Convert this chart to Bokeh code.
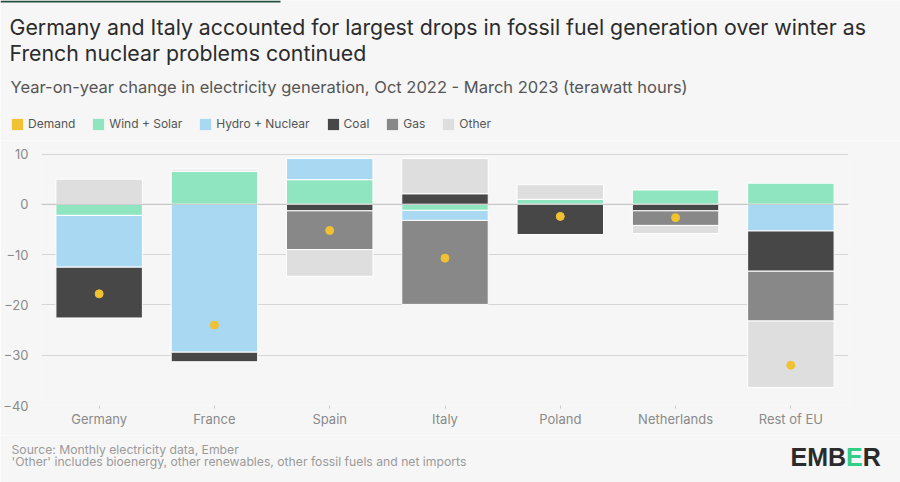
from bokeh.plotting import figure
from bokeh.models import ColumnDataSource, Label, Legend, LegendItem, Span, Range1d
from bokeh.layouts import column, row
from bokeh.embed import file_html
from bokeh.resources import INLINE

countries = ["Germany", "France", "Spain", "Italy", "Poland", "Netherlands", "Rest of EU"]
demand = [-17.8, -24.0, -5.2, -10.7, -2.4, -2.65, -32.0]
wind_solar = [-2.2, 6.6, 4.9, -1.2, 1.0, 2.9, 4.2]
hydro_nuclear = [-10.3, -29.4, 4.2, -2.0, 0.0, 0.0, -5.3]
coal = [-10.1, -1.9, -1.3, 2.1, -6.0, -1.3, -8.0]
gas = [0.0, 0.0, -7.7, -16.7, 0.0, -2.9, -9.9]
other = [5.0, 0.4, -5.3, 7.0, 2.9, -1.6, -13.2]
y_ticks = [-40, -30, -20, -10, 0, 10]

series = [
    ("Wind + Solar", wind_solar, "#8fe5c0"),
    ("Hydro + Nuclear", hydro_nuclear, "#a9d8f2"),
    ("Coal", coal, "#474747"),
    ("Gas", gas, "#888888"),
    ("Other", other, "#dedede"),
]
demand_color = "#f0c232"
BG = "#f6f6f6"
FONT = "Inter"
W = 900
H_HEAD, H_CHART, H_FOOT = 140, 295, 47


def blank(h):
    f = figure(width=W, height=h, x_range=Range1d(0, W), y_range=Range1d(0, h), title=None,
               output_backend="svg", toolbar_location=None, x_axis_type=None, y_axis_type=None,
               min_border=0, min_border_left=0, min_border_right=0, min_border_top=0,
               min_border_bottom=0, background_fill_color=BG, border_fill_color=BG,
               outline_line_color=None)
    f.xgrid.visible = False
    f.ygrid.visible = False
    return f


def lab(f, text, x, y, size, color, style="normal", font=FONT):
    f.add_layout(Label(x=x, y=y, text=text, text_font_size=size, text_color=color,
                       text_font_style=style, text_font=font, text_baseline="alphabetic",
                       text_align="left"))


# ---------- header ----------
head = blank(H_HEAD)
head.quad(left=[0], right=[280], bottom=[H_HEAD - 2], top=[H_HEAD],
          fill_color="#244f3e", line_color=None)
lab(head, "Germany and Italy accounted for largest drops in fossil fuel generation over winter as",
    9, H_HEAD - 26, "21.3px", "#2b2b2b")
lab(head, "French nuclear problems continued", 9, H_HEAD - 52, "21.3px", "#2b2b2b")
lab(head, "Year-on-year change in electricity generation, Oct 2022 - March 2023 (terawatt hours)",
    10, H_HEAD - 86, "16.5px", "#555555")

key_items = []
for name, color in [("Demand", demand_color)] + [(s[0], s[2]) for s in series]:
    r = head.vbar(x=[-500], top=[-500], bottom=[-501], width=1, fill_color=color, line_color=None)
    key_items.append(LegendItem(label=name, renderers=[r]))
legend = Legend(items=key_items, orientation="horizontal", location=(10, H_HEAD - 131),
                glyph_width=14, glyph_height=14, label_standoff=4, spacing=16,
                padding=0, margin=0, border_line_color=None, background_fill_alpha=0,
                label_text_font_size="12px", label_text_color="#555555", label_text_font=FONT,
                label_height=14)
head.add_layout(legend, "center")

# ---------- chart ----------
p = figure(x_range=countries, y_range=(-40, 10.5), width=W, height=H_CHART, title=None,
           output_backend="svg", toolbar_location=None,
           min_border_left=39, min_border_right=52, min_border_top=11, min_border_bottom=30,
           background_fill_color=BG, border_fill_color=BG, outline_line_color=None)

pos_base = [0.0] * len(countries)
neg_base = [0.0] * len(countries)
for name, vals, color in series:
    bottoms, tops = [], []
    for i, v in enumerate(vals):
        if v >= 0:
            bottoms.append(pos_base[i]); tops.append(pos_base[i] + v); pos_base[i] += v
        else:
            tops.append(neg_base[i]); bottoms.append(neg_base[i] + v); neg_base[i] += v
    src = ColumnDataSource(dict(x=countries, bottom=bottoms, top=tops))
    p.vbar(x="x", bottom="bottom", top="top", width=0.75, source=src,
           fill_color=color, line_color="white", line_width=1)

p.add_layout(Span(location=0, dimension="width", line_color="#c2c2c2", line_width=1))

dsrc = ColumnDataSource(dict(x=countries, y=demand))
p.scatter(x="x", y="y", source=dsrc, size=8, fill_color=demand_color, line_color=demand_color)

p.yaxis.ticker = y_ticks
p.yaxis.axis_line_color = None
p.yaxis.major_tick_line_color = None
p.yaxis.minor_tick_line_color = None
p.yaxis.major_label_standoff = 7
p.yaxis.major_label_text_color = "#8a8a8a"
p.yaxis.major_label_text_font_size = "13px"
p.yaxis.major_label_text_font = FONT
p.xaxis.axis_line_color = None
p.xaxis.major_tick_line_color = "#c8c8c8"
p.xaxis.major_tick_out = 3
p.xaxis.major_tick_in = 0
p.xaxis.major_label_standoff = 2
p.xaxis.major_label_text_color = "#8a8a8a"
p.xaxis.major_label_text_font_size = "13px"
p.xaxis.major_label_text_font = FONT
p.xgrid.grid_line_color = None
p.ygrid.grid_line_color = "#d6d6d6"
p.ygrid.grid_line_width = 1

# ---------- footer ----------
foot = blank(H_FOOT)
top_foot = H_HEAD + H_CHART
lab(foot, "Source: Monthly electricity data, Ember", 11, H_FOOT - (449 - top_foot), "12.2px", "#9a9a9a")
lab(foot, "'Other' includes bioenergy, other renewables, other fossil fuels and net imports",
    11, H_FOOT - (461 - top_foot), "12.2px", "#9a9a9a")
base_logo = H_FOOT - (456 - top_foot)
lab(foot, "EMB", 790, base_logo, "25px", "#2b2b2b", "bold", "Liberation Sans")
lab(foot, "E", 845.5, base_logo, "25px", "#2fcf8a", "bold", "Liberation Sans")
lab(foot, "R", 862.2, base_logo, "25px", "#2b2b2b", "bold", "Liberation Sans")

layout = column(row(head), row(p), row(foot), spacing=0)
open("out.html", "w").write(file_html(layout, INLINE))
